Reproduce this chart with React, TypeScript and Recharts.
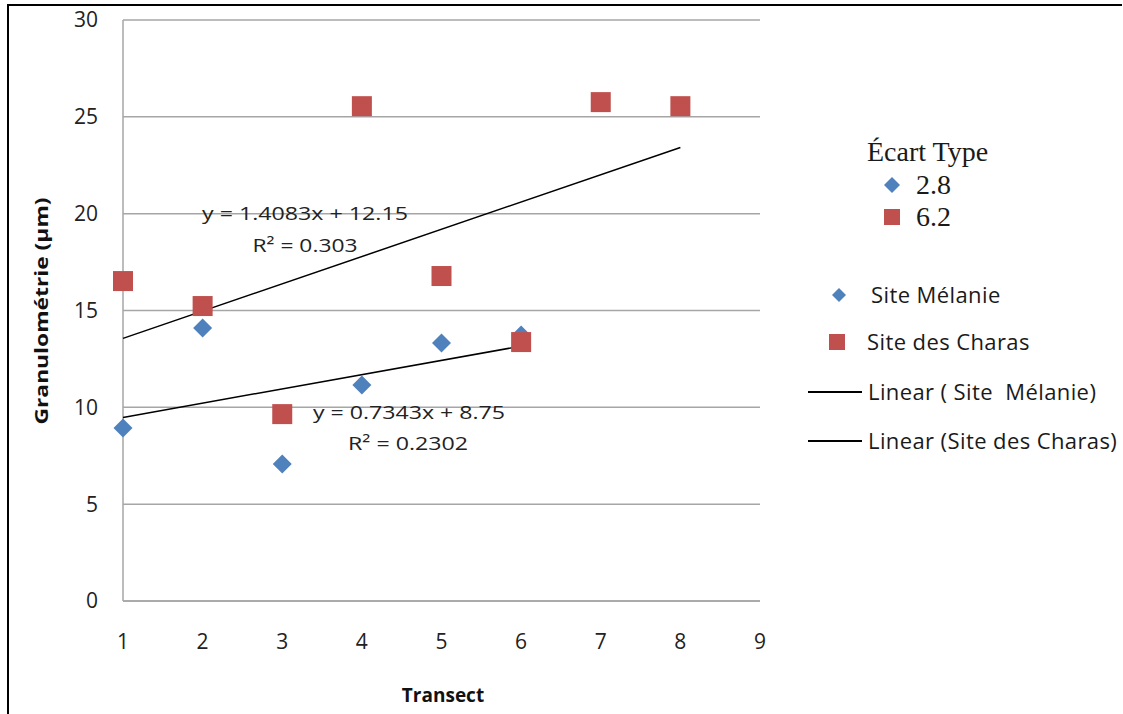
import {
  ComposedChart,
  Scatter,
  XAxis,
  YAxis,
  CartesianGrid,
  Legend,
} from "recharts";

// valeurs
const transects = [1, 2, 3, 4, 5, 6, 7, 8];
const siteMelanie = [8.93, 14.09, 7.07, 11.15, 13.32, 13.73];
const siteCharas = [16.52, 15.23, 9.65, 25.55, 16.78, 13.37, 25.76, 25.55];

// droites de tendance : extrémités
const trendMelanieX = [1, 6];
const trendMelanieY = [9.48, 13.16];
const trendCharasX = [1, 8];
const trendCharasY = [13.56, 23.42];

const xTicks = [1, 2, 3, 4, 5, 6, 7, 8, 9];
const yTicks = [0, 5, 10, 15, 20, 25, 30];

const BLUE = "#4F81BD";
const RED = "#C0504D";
const GRID = "#a6a6a6";
const FONT = "'Open Sans', Lato, sans-serif";

const melanieData = siteMelanie.map((y, i) => ({ x: transects[i], y }));
const charasData = siteCharas.map((y, i) => ({ x: transects[i], y }));
const trendMelanie = trendMelanieX.map((x, i) => ({ x, y: trendMelanieY[i] }));
const trendCharas = trendCharasX.map((x, i) => ({ x, y: trendCharasY[i] }));

// eslint-disable-next-line @typescript-eslint/no-explicit-any
const Diamond = (props: any) => {
  const { cx, cy } = props;
  const r = 9.5;
  return (
    <polygon
      points={`${cx},${cy - r} ${cx + r},${cy} ${cx},${cy + r} ${cx - r},${cy}`}
      fill={BLUE}
    />
  );
};

// eslint-disable-next-line @typescript-eslint/no-explicit-any
const Square = (props: any) => {
  const { cx, cy } = props;
  return <rect x={cx - 10} y={cy - 10} width={20} height={20} fill={RED} />;
};

const NoDot = () => <g />;

function LegendBox() {
  const serif = "'Liberation Serif', 'DejaVu Serif', serif";
  const txt: React.CSSProperties = {
    position: "absolute",
    fontFamily: FONT,
    fontSize: 22,
    letterSpacing: 0.4,
    color: "#1a1a1a",
    lineHeight: "24px",
    whiteSpace: "nowrap",
  };
  const ser: React.CSSProperties = {
    ...txt,
    fontFamily: serif,
    fontSize: 28,
    letterSpacing: 0,
    lineHeight: "30px",
  };
  const diamond = (x: number, y: number, r: number) => (
    <svg
      style={{ position: "absolute", left: x - r, top: y - r }}
      width={r * 2}
      height={r * 2}
    >
      <polygon points={`${r},0 ${r * 2},${r} ${r},${r * 2} 0,${r}`} fill={BLUE} />
    </svg>
  );
  const square = (x: number, y: number, s: number) => (
    <div
      style={{
        position: "absolute",
        left: x - s / 2,
        top: y - s / 2,
        width: s,
        height: s,
        background: RED,
      }}
    />
  );
  const line = (y: number) => (
    <div
      style={{
        position: "absolute",
        left: 0,
        top: y - 1,
        width: 54,
        height: 1.5,
        background: "#000",
      }}
    />
  );
  // origine du bloc : x = 808, y = 130
  return (
    <div style={{ position: "relative", width: 315, height: 330 }}>
      <div style={{ ...ser, left: 59, top: 22 - 15 }}>Écart Type</div>
      {diamond(84, 55, 8)}
      <div style={{ ...ser, left: 108, top: 55 - 15 }}>2.8</div>
      {square(84, 87, 16)}
      <div style={{ ...ser, left: 108, top: 87 - 15 }}>6.2</div>

      {diamond(31, 165, 7)}
      <div style={{ ...txt, left: 63, top: 165 - 13 }}>Site Mélanie</div>
      {square(29, 212, 16)}
      <div style={{ ...txt, left: 59, top: 212 - 13 }}>Site des Charas</div>
      {line(262)}
      <div style={{ ...txt, left: 60, top: 262 - 13 }}>Linear ( Site&nbsp; Mélanie)</div>
      {line(311)}
      <div style={{ ...txt, left: 60, top: 311 - 13 }}>Linear (Site des Charas)</div>
    </div>
  );
}

export default function App() {
  const eq: React.SVGProps<SVGTextElement> = {
    fontFamily: FONT,
    fontSize: 19,
    fill: "#222",
    textAnchor: "middle",
    dominantBaseline: "central",
    lengthAdjust: "spacingAndGlyphs",
  };
  return (
    <div
      style={{
        position: "absolute",
        left: 0,
        top: 0,
        width: 1123,
        height: 714,
        background: "#fff",
      }}
    >
      <ComposedChart
        width={1123}
        height={714}
        margin={{ top: 20, right: 363, bottom: 53, left: 63 }}
      >
        <CartesianGrid vertical={false} stroke={GRID} strokeWidth={1.5} />
        <XAxis
          type="number"
          dataKey="x"
          domain={[1, 9]}
          ticks={xTicks}
          height={60}
          axisLine={{ stroke: GRID, strokeWidth: 1.5 }}
          tickLine={false}
          tickSize={0}
          tickMargin={33}
          tick={{ fontSize: 21, fill: "#222", fontFamily: FONT }}
        />
        <YAxis
          type="number"
          dataKey="y"
          domain={[0, 30]}
          ticks={yTicks}
          width={60}
          axisLine={{ stroke: GRID, strokeWidth: 1.5 }}
          tickLine={false}
          tickSize={0}
          tickMargin={25}
          tick={{ fontSize: 21, fill: "#222", fontFamily: FONT }}
        />
        <Legend
          layout="vertical"
          align="center"
          verticalAlign="middle"
          wrapperStyle={{ left: 808, top: 130, width: 315, height: 330 }}
          content={() => <LegendBox />}
        />
        <Scatter
          name="Linear ( Site Mélanie)"
          data={trendMelanie}
          line={{ stroke: "#000", strokeWidth: 1.5 }}
          stroke="#000"
          shape={NoDot}
          isAnimationActive={false}
        />
        <Scatter
          name="Linear (Site des Charas)"
          data={trendCharas}
          line={{ stroke: "#000", strokeWidth: 1.5 }}
          stroke="#000"
          shape={NoDot}
          isAnimationActive={false}
        />
        <Scatter
          name="Site Mélanie"
          data={melanieData}
          shape={Diamond}
          fill={BLUE}
          isAnimationActive={false}
        />
        <Scatter
          name="Site des Charas"
          data={charasData}
          shape={Square}
          fill={RED}
          isAnimationActive={false}
        />
      </ComposedChart>

      <svg
        width={1123}
        height={714}
        style={{ position: "absolute", left: 0, top: 0, pointerEvents: "none" }}
      >
        <line x1={8} y1={5} x2={8} y2={714} stroke="#000" strokeWidth={2} />
        <line x1={7} y1={5} x2={1122} y2={5} stroke="#000" strokeWidth={2} />
        <text
          x={41}
          y={311}
          transform="rotate(-90 41 311)"
          fontFamily={FONT}
          fontWeight={700}
          fontSize={17}
          fill="#111"
          textAnchor="middle"
          dominantBaseline="central"
          textLength={227}
          lengthAdjust="spacingAndGlyphs"
        >
          Granulométrie (µm)
        </text>
        <text
          x={443}
          y={695}
          fontFamily={FONT}
          fontWeight={700}
          fontSize={19}
          fill="#111"
          textAnchor="middle"
          dominantBaseline="central"
        >
          Transect
        </text>
        <text {...eq} x={305} y={213} textLength={206}>
          y = 1.4083x + 12.15
        </text>
        <text {...eq} x={305} y={245} textLength={105}>
          R² = 0.303
        </text>
        <text {...eq} x={409} y={412} textLength={192}>
          y = 0.7343x + 8.75
        </text>
        <text {...eq} x={408} y={443} textLength={120}>
          R² = 0.2302
        </text>
      </svg>
    </div>
  );
}
